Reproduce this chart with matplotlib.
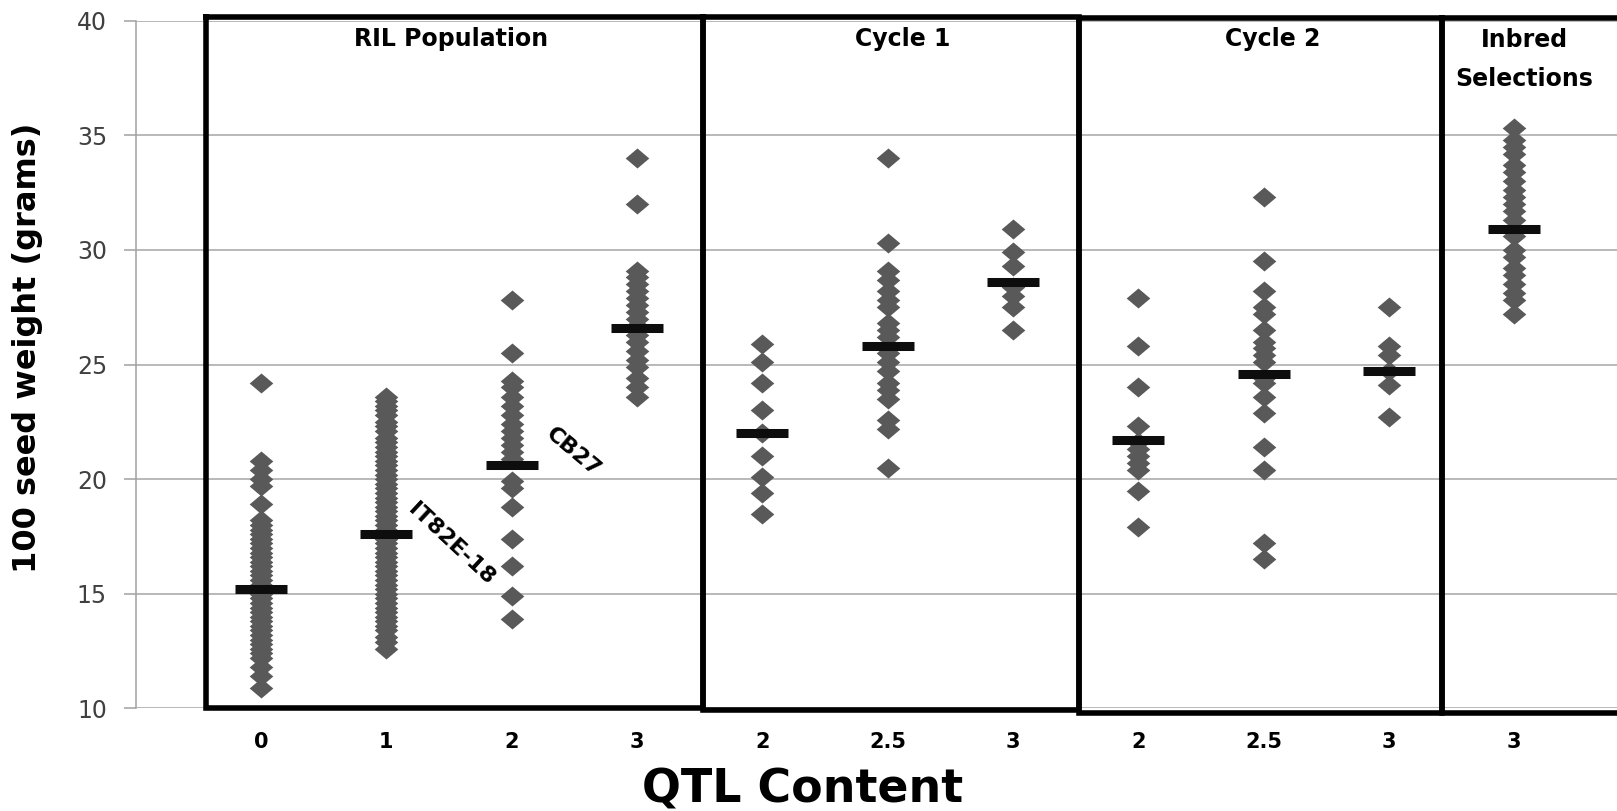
import matplotlib
matplotlib.use("Agg")
import matplotlib.pyplot as plt
from matplotlib.path import Path

# 100 seed weight (g) of lines grouped by QTL content in each population
ril_qtl0 = [24.2, 20.8, 20.4, 20.0, 19.7, 18.9, 18.2, 18.0, 17.8, 17.6, 17.4, 17.2,
            17.0, 16.8, 16.6, 16.4, 16.2, 16.0, 15.8, 15.6, 15.4, 15.2, 15.0, 14.8,
            14.6, 14.4, 14.2, 14.0, 13.8, 13.6, 13.4, 13.2, 13.0, 12.8, 12.6, 12.4,
            12.2, 11.8, 11.4, 10.9]
ril_qtl1 = [23.6, 23.4, 23.2, 23.0, 22.8, 22.5, 22.3, 22.1, 21.8, 21.6, 21.4, 21.2,
            21.0, 20.8, 20.6, 20.4, 20.2, 20.0, 19.8, 19.6, 19.4, 19.2, 19.0, 18.8,
            18.6, 18.4, 18.2, 18.0, 17.8, 17.6, 17.4, 17.2, 17.0, 16.8, 16.6, 16.4,
            16.2, 16.0, 15.8, 15.6, 15.4, 15.2, 15.0, 14.8, 14.6, 14.4, 14.2, 14.0,
            13.8, 13.6, 13.4, 13.1, 12.9, 12.6]
ril_qtl2 = [27.8, 25.5, 24.3, 24.0, 23.6, 23.2, 22.8, 22.4, 22.1, 21.8, 21.5, 21.2,
            20.9, 19.9, 19.6, 18.8, 17.4, 16.2, 14.9, 13.9]
ril_qtl3 = [34.0, 32.0, 29.1, 28.8, 28.5, 28.2, 27.9, 27.6, 27.3, 27.0, 26.7, 26.3,
            26.0, 25.6, 25.2, 24.9, 24.4, 24.0, 23.6]
cyc1_qtl2 = [25.9, 25.1, 24.2, 23.0, 22.0, 21.0, 20.1, 19.4, 18.5]
cyc1_qtl25 = [34.0, 30.3, 29.1, 28.7, 28.2, 27.8, 27.5, 26.8, 26.5, 26.2, 25.8, 25.5,
              25.1, 24.7, 24.2, 23.9, 23.5, 22.6, 22.2, 20.5]
cyc1_qtl3 = [30.9, 29.9, 29.3, 28.4, 28.0, 27.5, 26.5]
cyc2_qtl2 = [27.9, 25.8, 24.0, 22.3, 21.6, 21.3, 21.0, 20.7, 20.4, 19.5, 17.9]
cyc2_qtl25 = [32.3, 29.5, 28.2, 27.5, 27.2, 26.5, 26.0, 25.7, 25.4, 25.1, 24.4, 24.2,
              23.6, 22.9, 21.4, 20.4, 17.2, 16.5]
cyc2_qtl3 = [27.5, 25.8, 25.4, 24.7, 24.1, 22.7]
inbred_qtl3 = [35.3, 34.8, 34.5, 34.2, 33.7, 33.4, 33.0, 32.6, 32.3, 32.0, 31.7, 31.3,
               30.6, 30.0, 29.7, 29.2, 28.9, 28.5, 28.1, 27.8, 27.2]

groups = [ril_qtl0, ril_qtl1, ril_qtl2, ril_qtl3, cyc1_qtl2, cyc1_qtl25, cyc1_qtl3,
          cyc2_qtl2, cyc2_qtl25, cyc2_qtl3, inbred_qtl3]
group_means = [15.2, 17.6, 20.6, 26.6, 22.0, 25.8, 28.6, 21.7, 24.6, 24.7, 30.9]
qtl_labels = ["0", "1", "2", "3", "2", "2.5", "3", "2", "2.5", "3", "3"]

# population boxes: left, right, top, bottom (in axis units)
populations = ["RIL Population", "Cycle 1", "Cycle 2", "Inbred\nSelections"]
box_left = [0.56, 4.53, 7.53, 10.42]
box_right = [4.53, 7.53, 10.42, 12.5]
box_top = [40.18, 40.18, 40.13, 40.13]
box_bottom = [10.0, 9.91, 9.82, 9.82]
label_x = [2.52, 6.12, 9.07, 11.08]
label_y = [39.19, 39.19, 39.19, 38.32]

positions = list(range(1, len(groups) + 1))

fig = plt.figure(figsize=(16.17, 8.11), dpi=100)
ax = fig.add_axes([0.0839, 0.1265, 0.9161, 0.848])

diamond = Path([(-1.18, 0), (0, 1), (1.18, 0), (0, -1), (-1.18, 0)],
               [Path.MOVETO, Path.LINETO, Path.LINETO, Path.LINETO, Path.CLOSEPOLY])

for pos, vals in zip(positions, groups):
    ax.plot([pos] * len(vals), vals, linestyle="none", marker=diamond,
            markersize=17, color="#595959", markeredgewidth=0, zorder=3)

ax.plot(positions, group_means, linestyle="none", marker="_", markersize=38,
        markeredgewidth=6.5, color="#0d0d0d", zorder=4)

# population frames
for i in range(len(populations)):
    xs = [box_left[i], box_right[i], box_right[i], box_left[i], box_left[i]]
    ys = [box_top[i], box_top[i], box_bottom[i], box_bottom[i], box_top[i]]
    ax.plot(xs, ys, color="black", linewidth=4, clip_on=False, zorder=5,
            solid_joinstyle="miter")
    ax.text(label_x[i], label_y[i], populations[i], ha="center", va="center",
            fontsize=17, fontweight="bold", linespacing=1.8, zorder=6)

ax.text(2.52, 17.15, "IT82E-18", rotation=-43, ha="center", va="center",
        fontsize=16, fontweight="semibold", rotation_mode="anchor")
ax.text(3.49, 21.2, "CB27", rotation=-40, ha="center", va="center",
        fontsize=16, fontweight="semibold", rotation_mode="anchor")

ax.set_xlim(0, 11.82)
ax.set_ylim(10, 40)
ax.set_yticks([10, 15, 20, 25, 30, 35, 40])
ax.set_xticks(positions)
ax.set_xticklabels(qtl_labels, fontsize=15, fontweight="bold")
ax.tick_params(axis="x", length=0, pad=17)
ax.tick_params(axis="y", length=8.6, width=1.1, color="#a0a0a0", pad=12,
               labelsize=17, labelcolor="#404040")

ax.grid(axis="y", color="#a6a6a6", linewidth=1.1, zorder=0)
ax.set_axisbelow(True)
for side in ["top", "right", "bottom"]:
    ax.spines[side].set_visible(False)
ax.spines["left"].set_color("#a0a0a0")
ax.spines["left"].set_linewidth(1.1)

ax.set_ylabel("100 seed weight (grams)", fontsize=23, fontweight="bold")
ax.yaxis.label.set_va("center")
ax.yaxis.set_label_coords(-0.073, 0.524)
ax.set_xlabel("QTL Content", fontsize=33, fontweight="bold")
ax.xaxis.label.set_va("center")
ax.xaxis.set_label_coords(0.4505, -0.1186)

fig.savefig("out.png", dpi=100)
